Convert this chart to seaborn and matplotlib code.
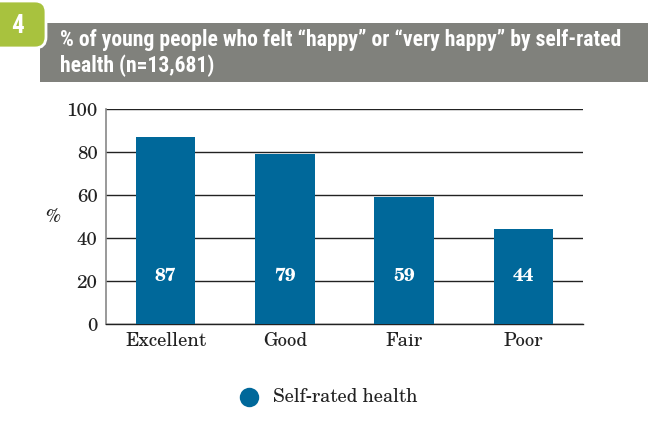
import matplotlib
matplotlib.use("Agg")
import matplotlib.pyplot as plt
from matplotlib.patches import FancyBboxPatch, Rectangle
from matplotlib.lines import Line2D
from matplotlib.transforms import IdentityTransform
import seaborn as sns
import pandas as pd

categories = ["Excellent", "Good", "Fair", "Poor"]
values = [87, 79, 59, 44]
y_ticks = [0, 20, 40, 60, 80, 100]
title = "% of young people who felt \u201chappy\u201d or \u201cvery happy\u201d by self-rated\nhealth (n=13,681)"
legend_label = "Self-rated health"
figure_number = "4"

BAR = "#00689A"
HEADER = "#80817C"
BADGE = "#A8C23E"
INK = "#222222"

SERIF = ["TeX Gyre Schola", "C059", "Century Schoolbook L", "DejaVu Serif"]
NARROW = ["Roboto Condensed", "PT Sans Narrow", "Archivo Narrow",
          "Fira Sans Condensed", "Liberation Sans Narrow", "DejaVu Sans"]

sns.set_theme(style="white")
plt.rcParams["font.family"] = SERIF

df = pd.DataFrame({"health": categories, "pct": values})

fig = plt.figure(figsize=(6.48, 4.37), dpi=100)
W, H = 648, 437
PIX = IdentityTransform()

def fx(px):
    return px / W

def fy(py):
    return 1 - py / H

# header band and numbered badge (pixel units, origin bottom-left)
fig.patches.append(Rectangle((40, H - 82), W - 40, 82 - 23, transform=PIX,
                             facecolor=HEADER, edgecolor="none", zorder=0))
fig.patches.append(FancyBboxPatch((-20, H - 48), 66, 47,
                                  boxstyle="round,pad=0,rounding_size=11",
                                  transform=PIX, facecolor=BADGE,
                                  edgecolor="white", linewidth=2, zorder=1))
fig.text(fx(18), fy(26), figure_number, color="white", fontsize=18,
         fontweight="bold", ha="center", va="center", family=NARROW, zorder=2)
fig.text(fx(60), fy(53), title, color="white", fontsize=15.6, fontweight="bold",
         ha="left", va="center", linespacing=1.15, family=NARROW, zorder=2)

ax = fig.add_axes([fx(106), fy(324), fx(583 - 106), (324 - 109) / H])
sns.barplot(data=df, x="health", y="pct", color=BAR, saturation=1,
            width=0.5, linewidth=0, ax=ax, zorder=3)

ax.set_ylim(0, 100)
ax.set_xlim(-0.5, 3.5)
ax.set_yticks(y_ticks)
ax.yaxis.grid(True, color=INK, linewidth=1.0, zorder=0)
ax.set_axisbelow(True)
for s in ["top", "right"]:
    ax.spines[s].set_visible(False)
ax.spines["left"].set_color("#888888")
ax.spines["left"].set_linewidth(1.2)
ax.spines["bottom"].set_color(INK)
ax.spines["bottom"].set_linewidth(1.0)
ax.tick_params(axis="both", length=0, labelsize=13.5, colors=INK, pad=6)
ax.set_xlabel("")
ax.set_ylabel("%", rotation=0, fontsize=13, color=INK, labelpad=10, va="center")

for i, v in enumerate(values):
    ax.text(i, 22, str(v), color="white", fontsize=13.5, fontweight="bold",
            ha="center", va="center", zorder=5)

# legend: round marker plus label
fig.add_artist(Line2D([fx(249)], [fy(397)], marker="o", markersize=14,
                      markerfacecolor=BAR, markeredgecolor="none",
                      linestyle="none", transform=fig.transFigure))
fig.text(fx(273), fy(397), legend_label, fontsize=13.3, color=INK,
         ha="left", va="center")

fig.savefig("out.png", dpi=100)
